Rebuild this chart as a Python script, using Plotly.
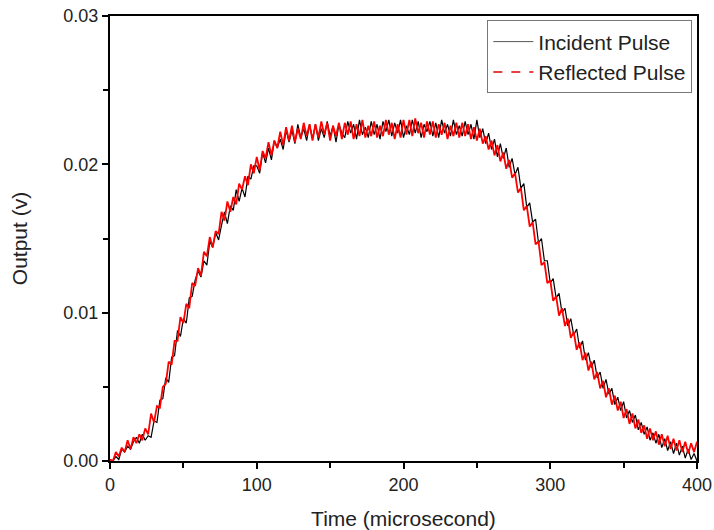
import plotly.graph_objects as go

# sampling grid (microseconds)
time_us = list(range(0, 401, 2))

# Incident pulse (mV)
incident_mv = [
    0.1, 0.0, 0.3, 0.1, 0.8, 0.6, 1.0, 0.8, 1.3, 1.6,
    1.2, 1.8, 1.4, 1.7, 1.6, 2.7, 2.6, 4.1, 4.2, 5.6,
    5.3, 7.0, 7.1, 8.8, 8.4, 9.6, 9.3, 11.0, 11.1, 12.2,
    12.8, 12.4, 13.5, 13.2, 14.8, 14.4, 15.4, 14.9, 15.9, 16.8,
    16.0, 17.2, 16.9, 18.3, 17.5, 18.4, 17.8, 19.2, 19.0, 19.9,
    19.9, 19.4, 20.8, 20.1, 21.1, 20.3, 21.6, 21.1, 21.7, 21.0,
    22.3, 21.5, 22.3, 21.4, 22.7, 21.8, 22.4, 21.6, 22.7, 21.7,
    22.7, 21.6, 22.4, 21.8, 22.9, 21.9, 22.6, 21.5, 22.7, 22.1,
    21.8, 22.9, 22.1, 22.7, 21.7, 23.0, 22.0, 22.5, 21.8, 22.9,
    22.0, 22.7, 21.7, 22.9, 22.2, 23.0, 21.9, 22.8, 22.1, 23.0,
    21.8, 22.6, 22.0, 23.0, 22.1, 22.9, 21.8, 22.7, 22.2, 22.9,
    21.9, 22.8, 21.8, 23.0, 22.1, 22.7, 21.9, 23.0, 22.0, 22.6,
    21.9, 22.9, 22.0, 22.7, 21.7, 23.0, 21.8, 22.4, 21.4, 22.1,
    21.0, 21.7, 20.5, 21.4, 20.4, 21.1, 19.8, 20.4, 19.3, 19.8,
    18.4, 18.7, 17.1, 17.4, 16.1, 16.3, 14.7, 15.0, 13.5, 13.5,
    12.0, 12.3, 11.0, 11.3, 10.0, 10.3, 9.1, 9.6, 8.5, 8.9,
    7.6, 8.1, 6.8, 7.3, 6.3, 6.8, 5.6, 6.0, 4.9, 5.5,
    4.5, 4.9, 3.8, 4.3, 3.4, 4.0, 2.9, 3.4, 2.6, 3.1,
    2.1, 2.6, 1.8, 2.3, 1.4, 1.9, 1.2, 1.8, 0.9, 1.5,
    0.7, 1.3, 0.5, 1.2, 0.4, 1.0, 0.2, 0.8, 0.1, 0.5,
    0.0,
]

# Reflected pulse (mV)
reflected_mv = [
    0.1, 0.0, 0.6, 0.3, 0.9, 0.6, 1.4, 0.8, 1.6, 1.2,
    1.8, 1.4, 2.2, 1.8, 3.2, 2.6, 3.7, 3.6, 5.0, 5.2,
    6.7, 6.5, 8.1, 8.1, 9.7, 9.3, 10.6, 10.3, 12.0, 11.8,
    13.0, 12.5, 14.1, 13.8, 15.1, 14.4, 15.5, 15.3, 16.8, 16.2,
    17.5, 16.8, 17.8, 17.3, 18.7, 18.3, 19.2, 18.6, 20.0, 19.4,
    20.5, 19.6, 20.9, 20.4, 21.5, 20.6, 21.6, 21.1, 22.2, 21.3,
    22.5, 21.6, 22.6, 21.5, 22.4, 21.7, 22.8, 21.9, 22.7, 21.6,
    22.7, 21.8, 22.9, 22.0, 22.8, 21.6, 22.6, 21.9, 22.8, 21.7,
    22.8, 22.0, 22.9, 21.7, 22.7, 21.9, 23.0, 21.8, 22.6, 21.9,
    22.9, 21.8, 22.6, 21.9, 23.0, 22.0, 22.8, 21.7, 22.7, 21.8,
    23.0, 22.0, 23.0, 21.9, 23.1, 22.1, 22.8, 21.8, 22.9, 22.0,
    22.9, 21.8, 22.7, 22.0, 22.8, 21.7, 22.6, 21.9, 22.8, 21.8,
    22.8, 21.9, 22.7, 21.7, 22.5, 21.6, 22.4, 21.4, 21.9, 21.0,
    21.6, 20.6, 21.3, 20.2, 20.8, 19.7, 20.3, 19.1, 19.4, 18.1,
    18.4, 16.9, 17.2, 15.8, 16.1, 14.6, 14.8, 13.2, 13.4, 12.0,
    12.2, 10.8, 11.1, 9.8, 10.3, 9.1, 9.6, 8.3, 8.7, 7.5,
    8.0, 6.8, 7.3, 6.1, 6.7, 5.5, 6.0, 4.9, 5.4, 4.3,
    4.9, 3.8, 4.4, 3.4, 4.0, 2.9, 3.5, 2.5, 3.2, 2.2,
    2.8, 1.9, 2.4, 1.5, 2.2, 1.4, 2.0, 1.1, 1.8, 1.0,
    1.7, 0.8, 1.5, 0.7, 1.4, 0.6, 1.3, 0.5, 1.2, 0.6,
    1.3,
]

x_ticks = [0, 100, 200, 300, 400]
y_ticks = [0.00, 0.01, 0.02, 0.03]
series_names = ["Incident Pulse", "Reflected Pulse"]

incident_v = [v / 1000 for v in incident_mv]
reflected_v = [v / 1000 for v in reflected_mv]

FONT = "Liberation Sans, Arial, sans-serif"
BLACK = "black"
RED = "#ff0000"

fig = go.Figure()
# data curves (drawn solid; the dense noise hides the dash pattern in the original)
fig.add_trace(go.Scatter(
    x=time_us, y=incident_v, mode="lines", name=series_names[0],
    line=dict(color=BLACK, width=1.2), showlegend=False,
))
fig.add_trace(go.Scatter(
    x=time_us, y=reflected_v, mode="lines", name=series_names[1],
    line=dict(color=RED, width=1.8), showlegend=False,
))
# legend entries
fig.add_trace(go.Scatter(
    x=[None], y=[None], mode="lines", name=series_names[0],
    line=dict(color="#555", width=1),
))
fig.add_trace(go.Scatter(
    x=[None], y=[None], mode="lines", name=series_names[1],
    line=dict(color="#e00000", width=1.5, dash="dash"),
))

axis_common = dict(
    showline=True, linecolor="black", linewidth=2, mirror=True,
    ticks="outside", ticklen=6, tickwidth=1.5, tickcolor="black",
    showgrid=False, zeroline=False, automargin=False,
    tickfont=dict(family=FONT, size=18, color="#222"),
)

fig.update_xaxes(
    range=[0, 400], tickvals=x_ticks,
    minor=dict(ticks="outside", ticklen=5, tickwidth=1.5, tickcolor="black", dtick=50, tick0=0),
    title=dict(text="Time (microsecond)", font=dict(family=FONT, size=21, color="#222"), standoff=18),
    **axis_common,
)
fig.update_yaxes(
    range=[0, 0.03], tickvals=y_ticks, tickformat=".2f",
    minor=dict(ticks="outside", ticklen=5, tickwidth=1.5, tickcolor="black", dtick=0.005, tick0=0),
    title=dict(text="Output (v)", font=dict(family=FONT, size=21, color="#222"), standoff=30),
    **axis_common,
)

fig.update_layout(
    width=714, height=530,
    margin=dict(l=110, r=17, t=16, b=69),
    paper_bgcolor="white", plot_bgcolor="white",
    showlegend=True,
    legend=dict(
        x=0.992, y=0.99, xanchor="right", yanchor="top",
        bordercolor="#777", borderwidth=1, bgcolor="white",
        font=dict(family=FONT, size=21, color="#222"),
        tracegroupgap=0, itemwidth=40,
    ),
)

fig.write_html("out.html")
